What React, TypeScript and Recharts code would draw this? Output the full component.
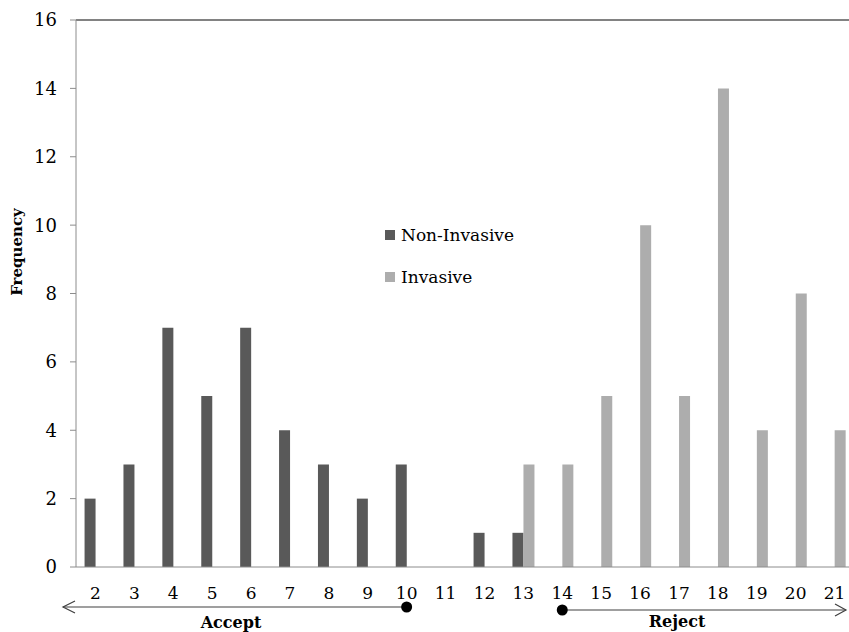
import { BarChart, Bar, XAxis, YAxis, ReferenceLine } from 'recharts';

const scores = ['2', '3', '4', '5', '6', '7', '8', '9', '10', '11', '12', '13', '14', '15', '16', '17', '18', '19', '20', '21'];
const nonInvasive = [2, 3, 7, 5, 7, 4, 3, 2, 3, 0, 1, 1, 0, 0, 0, 0, 0, 0, 0, 0];
const invasive = [0, 0, 0, 0, 0, 0, 0, 0, 0, 0, 0, 3, 3, 5, 10, 5, 14, 4, 8, 4];
const yTicks = [0, 2, 4, 6, 8, 10, 12, 14, 16];
const seriesNames = ['Non-Invasive', 'Invasive'];

const DARK = '#595959';
const LIGHT = '#adadad';
const FONT = '"DejaVu Serif", serif';

const CHART_W = 854;
const CHART_H = 632;
const AXIS_W = 76;
const BAND = (CHART_W - AXIS_W) / scores.length;
const catX = (label: string) => AXIS_W + (scores.indexOf(label) + 0.5) * BAND;

const data = scores.map((s, i) => ({
  score: s,
  nonInvasive: nonInvasive[i],
  invasive: invasive[i],
}));

export default function App() {
  const x10 = catX('10');
  const x14 = catX('14');
  const legendColors = [DARK, LIGHT];
  return (
    <div style={{ position: 'absolute', left: 0, top: 0, width: 849, height: 632, overflow: 'hidden', background: '#fff' }}>
      <BarChart
        width={CHART_W}
        height={CHART_H}
        data={data}
        margin={{ top: 20, right: 0, bottom: 0, left: 0 }}
        barCategoryGap="22%"
        barGap={0}
      >
        <XAxis
          dataKey="score"
          height={65}
          stroke="#8c8c8c"
          tickLine={false}
          tickSize={0}
          tickMargin={20}
          interval={0}
          tick={{ fontSize: 17, fill: '#000', fontFamily: FONT }}
        />
        <YAxis
          width={AXIS_W}
          domain={[0, 16]}
          ticks={yTicks}
          stroke="#8c8c8c"
          tickSize={6}
          tickMargin={13}
          tick={{ fontSize: 18, fill: '#000', fontFamily: FONT }}
        />
        <ReferenceLine y={16} stroke={DARK} strokeWidth={1.5} />
        <Bar dataKey="nonInvasive" name={seriesNames[0]} fill={DARK} isAnimationActive={false} />
        <Bar dataKey="invasive" name={seriesNames[1]} fill={LIGHT} isAnimationActive={false} />
      </BarChart>
      <svg width={849} height={632} style={{ position: 'absolute', left: 0, top: 0, pointerEvents: 'none' }}>
        {seriesNames.map((name, i) => (
          <g key={name}>
            <rect x={385} y={230 + i * 42} width={10} height={10} fill={legendColors[i]} />
            <text x={401} y={235 + i * 42} dominantBaseline="central" fontFamily={FONT} fontSize={17}>
              {name}
            </text>
          </g>
        ))}
        <text
          x={17}
          y={252}
          transform="rotate(-90 17 252)"
          textAnchor="middle"
          dominantBaseline="central"
          fontFamily={FONT}
          fontWeight="bold"
          fontSize={15}
        >
          Frequency
        </text>
        <line x1={63} y1={607} x2={x10} y2={607} stroke="#404040" strokeWidth={1.2} />
        <polyline points="75,601 63,607 75,613" fill="none" stroke="#404040" strokeWidth={1.2} />
        <circle cx={x10} cy={607} r={5.5} fill="#000" />
        <text x={231} y={628} textAnchor="middle" fontFamily={FONT} fontWeight="bold" fontSize={16}>
          Accept
        </text>
        <line x1={x14} y1={610} x2={846} y2={610} stroke="#404040" strokeWidth={1.2} />
        <polyline points="835,604 846,610 835,616" fill="none" stroke="#404040" strokeWidth={1.2} />
        <circle cx={x14} cy={610} r={5.5} fill="#000" />
        <text x={677} y={627} textAnchor="middle" fontFamily={FONT} fontWeight="bold" fontSize={16}>
          Reject
        </text>
      </svg>
    </div>
  );
}
